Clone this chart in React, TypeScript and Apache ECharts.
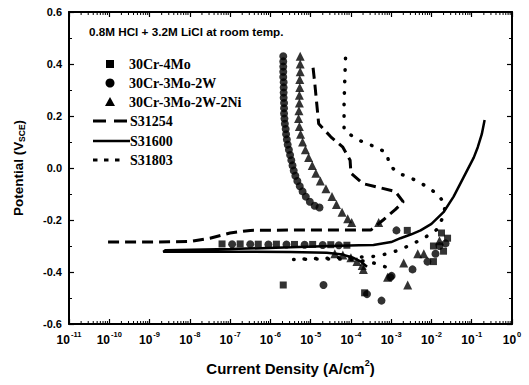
import React, { useEffect, useRef } from 'react';
import * as echarts from 'echarts';

const titleText = '0.8M HCl + 3.2M LiCl at room temp.';
const seriesNames = ['30Cr-4Mo', '30Cr-3Mo-2W', '30Cr-3Mo-2W-2Ni', 'S31254', 'S31600', 'S31803'];
// x axis is log10 of current density (decade exponents)
const xExponents = [-11, -10, -9, -8, -7, -6, -5, -4, -3, -2, -1, 0];
const yTicks = [-0.6, -0.4, -0.2, 0.0, 0.2, 0.4, 0.6];

// points: [log10(current density, A/cm2), potential (V_SCE)]
const cr4Mo: number[][] = [
  [-7.2, -0.292], [-6.75, -0.292], [-6.3, -0.293], [-5.85, -0.293], [-5.4, -0.294], [-4.95, -0.294],
  [-4.5, -0.295], [-4.1, -0.297],
  [-5.68, -0.45], [-3.66, -0.48], [-2.6, -0.24], [-1.95, -0.36], [-1.75, -0.25], [-1.6, -0.27],
  [-1.95, -0.3], [-1.7, -0.32],
];
const cr3Mo2W: number[][] = [
  [-5.68, 0.43], [-5.68, 0.41], [-5.68, 0.39], [-5.68, 0.37], [-5.68, 0.35], [-5.67, 0.33],
  [-5.67, 0.31], [-5.67, 0.29], [-5.67, 0.27], [-5.66, 0.25], [-5.66, 0.23], [-5.66, 0.21],
  [-5.65, 0.19], [-5.64, 0.17], [-5.62, 0.15], [-5.61, 0.13], [-5.59, 0.11], [-5.57, 0.09],
  [-5.54, 0.07], [-5.51, 0.05], [-5.48, 0.03], [-5.45, 0.01], [-5.42, -0.01], [-5.38, -0.03],
  [-5.33, -0.05], [-5.27, -0.07], [-5.2, -0.09], [-5.12, -0.11], [-5.02, -0.13], [-4.9, -0.145],
  [-4.78, -0.152],
  [-6.95, -0.293], [-6.5, -0.293], [-6.05, -0.294], [-5.6, -0.294], [-5.15, -0.295], [-4.7, -0.296],
  [-4.3, -0.297],
  [-4.68, -0.45], [-3.24, -0.51], [-2.99, -0.415], [-3.02, -0.42], [-2.47, -0.39], [-2.1, -0.36],
  [-1.9, -0.33], [-2.87, -0.24], [-1.8, -0.3], [-1.65, -0.29], [-3.6, -0.485],
];
const cr3Mo2W2Ni: number[][] = [
  [-5.26, 0.43], [-5.26, 0.4], [-5.26, 0.37], [-5.27, 0.34], [-5.27, 0.31], [-5.28, 0.28],
  [-5.28, 0.25], [-5.29, 0.22], [-5.3, 0.19], [-5.28, 0.16], [-5.25, 0.13], [-5.2, 0.1],
  [-5.13, 0.07], [-5.05, 0.04], [-4.96, 0.01], [-4.87, -0.02], [-4.76, -0.05], [-4.62, -0.08],
  [-4.47, -0.11], [-4.36, -0.14], [-4.22, -0.17], [-4.08, -0.195], [-3.98, -0.21],
  [-3.31, -0.21], [-3.69, -0.39], [-3.09, -0.42], [-2.69, -0.365], [-2.59, -0.45], [-2.34, -0.33],
  [-2.19, -0.33], [-1.8, -0.28],
  [-4.4, -0.33], [-4.2, -0.335], [-4.0, -0.345], [-3.85, -0.36], [-3.72, -0.375],
];
const s31254: number[][] = [
  [-10.03, -0.285], [-9, -0.285], [-8, -0.283], [-7.5, -0.27], [-7, -0.25], [-6.5, -0.24],
  [-5, -0.238], [-3.5, -0.238], [-3.2, -0.2], [-2.9, -0.16], [-2.7, -0.13], [-2.9, -0.09],
  [-3.3, -0.075], [-3.7, -0.06], [-4.0, -0.02], [-4.02, 0.03], [-4.2, 0.08], [-4.5, 0.12],
  [-4.8, 0.17], [-4.85, 0.25], [-4.9, 0.33], [-4.95, 0.4],
];
const s31600: number[][] = [
  [-3.6, -0.38], [-3.75, -0.36], [-3.95, -0.345], [-4.2, -0.333], [-4.6, -0.326], [-5.5, -0.323],
  [-7, -0.322], [-8.66, -0.322], [-8.6, -0.316], [-7, -0.312], [-5.5, -0.305], [-4.5, -0.3],
  [-3.8, -0.297], [-3.44, -0.296], [-3.0, -0.285], [-2.77, -0.27], [-2.5, -0.255], [-2.27, -0.24],
  [-2.0, -0.215], [-1.7, -0.17], [-1.45, -0.11], [-1.2, -0.035], [-0.95, 0.04], [-0.85, 0.08],
  [-0.75, 0.13], [-0.68, 0.185],
];
const s31803: number[][] = [
  [-3.15, -0.38], [-3.5, -0.362], [-3.9, -0.353], [-4.3, -0.35], [-4.8, -0.35], [-5.43, -0.352],
  [-5.0, -0.349], [-4.6, -0.347], [-4.26, -0.345], [-3.9, -0.343], [-3.44, -0.34], [-3.09, -0.33],
  [-2.79, -0.315], [-2.44, -0.29], [-2.14, -0.265], [-1.85, -0.235], [-1.72, -0.19], [-1.65, -0.142],
  [-1.85, -0.1], [-2.19, -0.065], [-2.49, -0.04], [-2.82, -0.02], [-3.04, 0.01], [-3.11, 0.057],
  [-3.36, 0.08], [-3.66, 0.096], [-3.94, 0.12], [-4.17, 0.146], [-4.17, 0.25], [-4.15, 0.35],
  [-4.13, 0.44],
];

// minor (2..9 x 10^n) tick positions, in log10 units
const minorVals: number[] = [];
for (let n = xExponents[0]; n < xExponents[xExponents.length - 1]; n++) {
  for (let k = 2; k <= 9; k++) minorVals.push(n + Math.log10(k));
}

const SANS = 'Liberation Sans';
const SERIF = 'Liberation Serif';

function legendGraphics() {
  const cx = 110;
  const tx = 129;
  const rows = [64, 83, 102, 121, 141, 160];
  const els: any[] = [];
  els.push({ type: 'rect', shape: { x: cx - 4, y: rows[0] - 4, width: 8, height: 8 }, style: { fill: '#000' } });
  els.push({ type: 'circle', shape: { cx, cy: rows[1], r: 4.5 }, style: { fill: '#000' } });
  els.push({ type: 'polygon', shape: { points: [[cx, rows[2] - 5], [cx + 5, rows[2] + 4], [cx - 5, rows[2] + 4]] }, style: { fill: '#000' } });
  els.push({ type: 'line', shape: { x1: 93, y1: rows[3], x2: 106, y2: rows[3] }, style: { stroke: '#000', lineWidth: 3 } });
  els.push({ type: 'line', shape: { x1: 114, y1: rows[3], x2: 127, y2: rows[3] }, style: { stroke: '#000', lineWidth: 3 } });
  els.push({ type: 'line', shape: { x1: 93, y1: rows[4], x2: 130, y2: rows[4] }, style: { stroke: '#000', lineWidth: 2.5 } });
  [93, 104, 115].forEach((x) => {
    els.push({ type: 'rect', shape: { x, y: rows[5] - 1.5, width: 4.5, height: 3 }, style: { fill: '#000' } });
  });
  seriesNames.forEach((name, i) => {
    els.push({
      type: 'text', x: i >= 3 ? tx + 1 : tx, y: rows[i],
      style: { text: name, fontFamily: SERIF, fontWeight: 'bold', fontSize: 14, fill: '#000', verticalAlign: 'middle', align: 'left' },
    });
  });
  return els;
}

export default function App() {
  const ref = useRef<HTMLDivElement>(null);
  useEffect(() => {
    if (!ref.current) return;
    const chart = echarts.init(ref.current, undefined, { renderer: 'svg' });
    const axisCommon = {
      axisLine: { show: true, onZero: false, lineStyle: { color: '#000', width: 2 } },
      splitLine: { show: false },
    };
    const xMin = xExponents[0];
    const xMax = xExponents[xExponents.length - 1];
    const yMin = yTicks[0];
    const yMax = yTicks[yTicks.length - 1];
    chart.setOption({
      animation: false,
      backgroundColor: '#fff',
      grid: { left: 69, right: 17, top: 12, bottom: 61, containLabel: false },
      title: {
        text: titleText,
        left: 84,
        top: 20,
        textStyle: { fontFamily: SANS, fontWeight: 'bold', fontSize: 11.7, color: '#000' },
      },
      graphic: legendGraphics(),
      xAxis: [
        {
          ...axisCommon,
          type: 'value',
          min: xMin,
          max: xMax,
          interval: 1,
          position: 'bottom',
          axisTick: { show: true, inside: true, length: 5, lineStyle: { color: '#000', width: 1.2 } },
          axisLabel: {
            margin: 8,
            color: '#000',
            fontFamily: SANS,
            fontWeight: 'bold',
            fontSize: 12,
            lineHeight: 16,
            formatter: (v: number) => '10{sup|' + Math.round(v) + '}',
            rich: {
              sup: { fontFamily: SANS, fontWeight: 'bold', fontSize: 7.5, color: '#000', lineHeight: 16, padding: [0, 0, 11, 1] },
            },
          },
          name: 'Current Density (A/cm{sup|2})',
          nameLocation: 'middle',
          nameGap: 35,
          nameTextStyle: {
            fontFamily: SANS, fontWeight: 'bold', fontSize: 15, color: '#000', lineHeight: 18,
            rich: { sup: { fontFamily: SANS, fontWeight: 'bold', fontSize: 9, color: '#000', lineHeight: 18, padding: [0, 0, 10, 0] } },
          },
        },
        {
          ...axisCommon,
          type: 'value',
          min: xMin,
          max: xMax,
          interval: 1,
          position: 'top',
          axisTick: { show: true, inside: true, length: 5, lineStyle: { color: '#000', width: 1.2 } },
          axisLabel: { show: false },
        },
      ],
      yAxis: [
        {
          ...axisCommon,
          type: 'value',
          min: yMin,
          max: yMax,
          interval: 0.2,
          position: 'left',
          axisTick: { show: true, inside: true, length: 5, lineStyle: { color: '#000', width: 1.2 } },
          minorTick: { show: true, splitNumber: 2, length: 3, lineStyle: { color: '#000', width: 1 } },
          axisLabel: {
            margin: 7,
            color: '#000',
            fontFamily: SANS,
            fontWeight: 'bold',
            fontSize: 11,
            formatter: (v: number) => v.toFixed(1),
          },
          name: 'Potential (V{sub|SCE})',
          nameLocation: 'middle',
          nameGap: 43,
          nameTextStyle: {
            fontFamily: SANS, fontWeight: 'bold', fontSize: 13.5, color: '#000',
            rich: { sub: { fontFamily: SANS, fontWeight: 'bold', fontSize: 8.5, color: '#000', padding: [6, 0, 0, 0] } },
          },
        },
        {
          ...axisCommon,
          type: 'value',
          min: yMin,
          max: yMax,
          interval: 0.2,
          position: 'right',
          axisTick: { show: true, inside: true, length: 5, lineStyle: { color: '#000', width: 1.2 } },
          minorTick: { show: true, splitNumber: 2, length: 3, lineStyle: { color: '#000', width: 1 } },
          axisLabel: { show: false },
        },
      ],
      series: [
        {
          name: seriesNames[0], type: 'scatter', symbol: 'rect', symbolSize: 7,
          itemStyle: { color: '#000' }, data: cr4Mo,
        },
        {
          name: seriesNames[1], type: 'scatter', symbol: 'circle', symbolSize: 8,
          itemStyle: { color: '#000' }, data: cr3Mo2W,
        },
        {
          name: seriesNames[2], type: 'scatter', symbol: 'triangle', symbolSize: 9,
          itemStyle: { color: '#000' }, data: cr3Mo2W2Ni,
        },
        {
          name: seriesNames[3], type: 'line', symbol: 'none', showSymbol: false,
          lineStyle: { color: '#000', width: 3, type: [11, 6] }, itemStyle: { color: '#000' },
          data: s31254,
        },
        {
          name: seriesNames[4], type: 'line', symbol: 'none', showSymbol: false,
          lineStyle: { color: '#000', width: 2.5, type: 'solid' }, itemStyle: { color: '#000' },
          data: s31600,
        },
        {
          name: seriesNames[5], type: 'line', symbol: 'none', showSymbol: false,
          lineStyle: { color: '#000', width: 3.5, type: [0.5, 11], cap: 'round' }, itemStyle: { color: '#000' },
          data: s31803,
        },
        {
          name: 'minorTicks', type: 'custom', silent: true, clip: false,
          data: minorVals.map((v) => [v, 0]),
          renderItem: (params: any, api: any) => {
            const v = api.value(0);
            const b = api.coord([v, yMin]);
            const t = api.coord([v, yMax]);
            const st = { stroke: '#000', lineWidth: 1 };
            return {
              type: 'group',
              children: [
                { type: 'line', shape: { x1: b[0], y1: b[1], x2: b[0], y2: b[1] - 3 }, style: st },
                { type: 'line', shape: { x1: t[0], y1: t[1], x2: t[0], y2: t[1] + 3 }, style: st },
              ],
            };
          },
        },
      ],
    });
    return () => chart.dispose();
  }, []);
  return <div ref={ref} style={{ width: 529, height: 385, position: 'absolute', left: 0, top: 0 }} />;
}
